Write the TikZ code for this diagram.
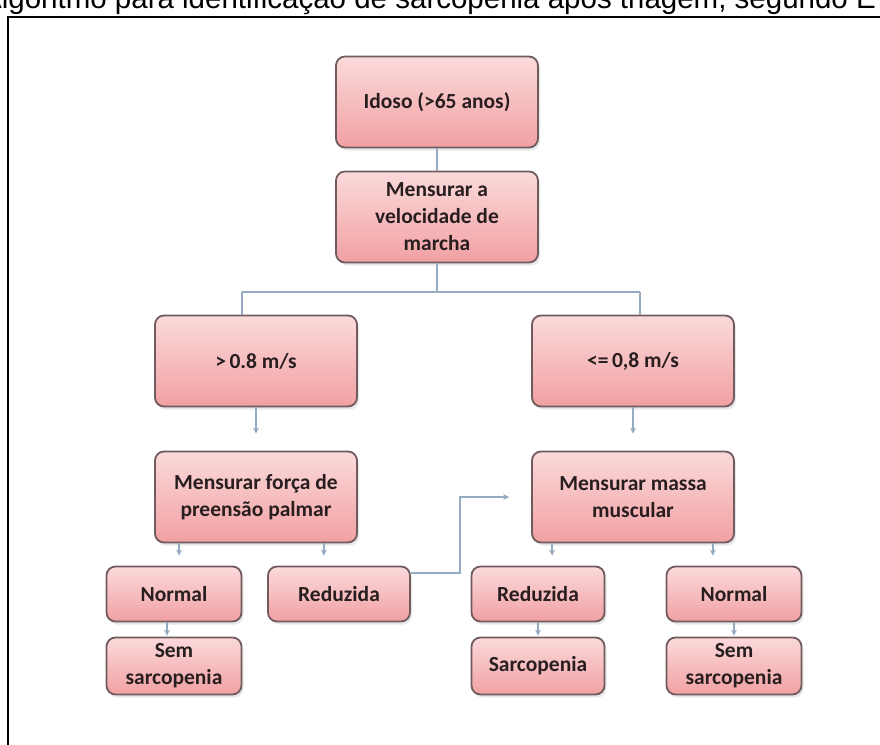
\documentclass[tikz,border=0pt]{standalone}
\usepackage{fontspec}
\newfontfamily\boxfont{Carlito}
\newfontfamily\capfont{Liberation Sans}
\usetikzlibrary{arrows.meta,shadows}
\definecolor{boxtop}{RGB}{251,218,218}
\definecolor{boxbot}{RGB}{241,160,163}
\definecolor{boxline}{RGB}{112,92,94}
\definecolor{boxtext}{RGB}{40,30,32}
\definecolor{linkcol}{RGB}{150,170,195}
\tikzset{
	decision/.style={rectangle, rounded corners=9pt, draw=boxline, line width=1.8pt,
		top color=boxtop, bottom color=boxbot,
		drop shadow={opacity=0.18, shadow xshift=2pt, shadow yshift=-3pt},
		font=\boxfont\bfseries\fontsize{21.5}{27}\selectfont, text=boxtext,
		align=center, inner sep=0pt},
	bigbox/.style={decision, minimum width=202pt, minimum height=91pt},
	smallbox/.style={decision, minimum width=135pt, minimum height=55pt},
	link/.style={draw=linkcol, line width=1.4pt},
	seta/.style={link, -{Stealth[length=6pt,width=6pt]}}
}

\begin{document}
\begin{tikzpicture}[x=1pt, y=-1pt]
			%%%%% START %%%%%
			
			\useasboundingbox (0,0) rectangle (880,744);
			\clip (0,0) rectangle (880,744);
			
			\node[anchor=base west, inner sep=0pt, font=\capfont\fontsize{29.5}{34}\selectfont] (legenda) at (-18,9) {Algoritmo para identificação de sarcopenia após triagem, segundo E};
			\draw[line width=2pt] (8,17) rectangle (900,770);
			
			\node[bigbox] (idoso) at (437,102) {Idoso (>65 anos)};
			\node[bigbox] (velocidade) at (437,217) {Mensurar a\\velocidade de\\marcha};
			
			\node[bigbox] (rapida) at (256,361) {>\,0.8 m/s};
			\node[bigbox] (lenta) at (633,361) {<=\,0,8 m/s};
			
			\node[bigbox] (forca) at (256,497) {Mensurar força de\\preensão palmar};
			\node[bigbox] (massa) at (633,497) {Mensurar massa\\muscular};
			
			\node[smallbox] (normalA) at (174,594) {Normal};
			\node[smallbox, minimum width=142pt] (reduzidaA) at (339,594) {Reduzida};
			\node[smallbox, minimum width=133pt] (reduzidaB) at (538,594) {Reduzida};
			\node[smallbox] (normalB) at (734,594) {Normal};
			
			\node[smallbox, minimum height=57pt] (semA) at (174,666) {Sem\\sarcopenia};
			\node[smallbox, minimum width=133pt, minimum height=57pt] (sarco) at (538,666) {Sarcopenia};
			\node[smallbox, minimum height=57pt] (semB) at (734,666) {Sem\\sarcopenia};
			
			% ramos da velocidade de marcha
			\coordinate (ramoA) at (242,292);
			\coordinate (ramoB) at (640,292);
			\coordinate (dobra) at (460,573);
			
			\draw[link] (idoso) -- (velocidade);
			\draw[link] (velocidade.south) -- (velocidade.south |- ramoA);
			\draw[link] (ramoA) -- (ramoB);
			\draw[link] (ramoA) -- (ramoA |- rapida.north);
			\draw[link] (ramoB) -- (ramoB |- lenta.north);
			
			\draw[seta, shorten >=17pt] (rapida) -- (forca);
			\draw[seta, shorten >=17pt] (lenta) -- (massa);
			
			\draw[seta, shorten >=10pt] ([xshift=25pt]forca.south west) -- ([xshift=25pt]forca.south west |- normalA.north);
			\draw[seta, shorten >=10pt] ([xshift=-34pt]forca.south east) -- ([xshift=-34pt]forca.south east |- reduzidaA.north);
			\draw[seta, shorten >=10pt] ([xshift=21pt]massa.south west) -- ([xshift=21pt]massa.south west |- reduzidaB.north);
			\draw[seta, shorten >=10pt] ([xshift=-22pt]massa.south east) -- ([xshift=-22pt]massa.south east |- normalB.north);
			
			\draw[seta, shorten >=1pt] ([xshift=-7pt]normalA.south) -- ([xshift=-7pt]semA.north);
			\draw[seta, shorten >=1pt] (reduzidaB) -- (sarco);
			\draw[seta, shorten >=1pt] (normalB) -- (semB);
			
			\draw[seta, shorten >=22pt] ([yshift=21pt]reduzidaA.east) -- (dobra) |- (massa.west);
			
			%%%%% END %%%%%
\end{tikzpicture}
\end{document}
